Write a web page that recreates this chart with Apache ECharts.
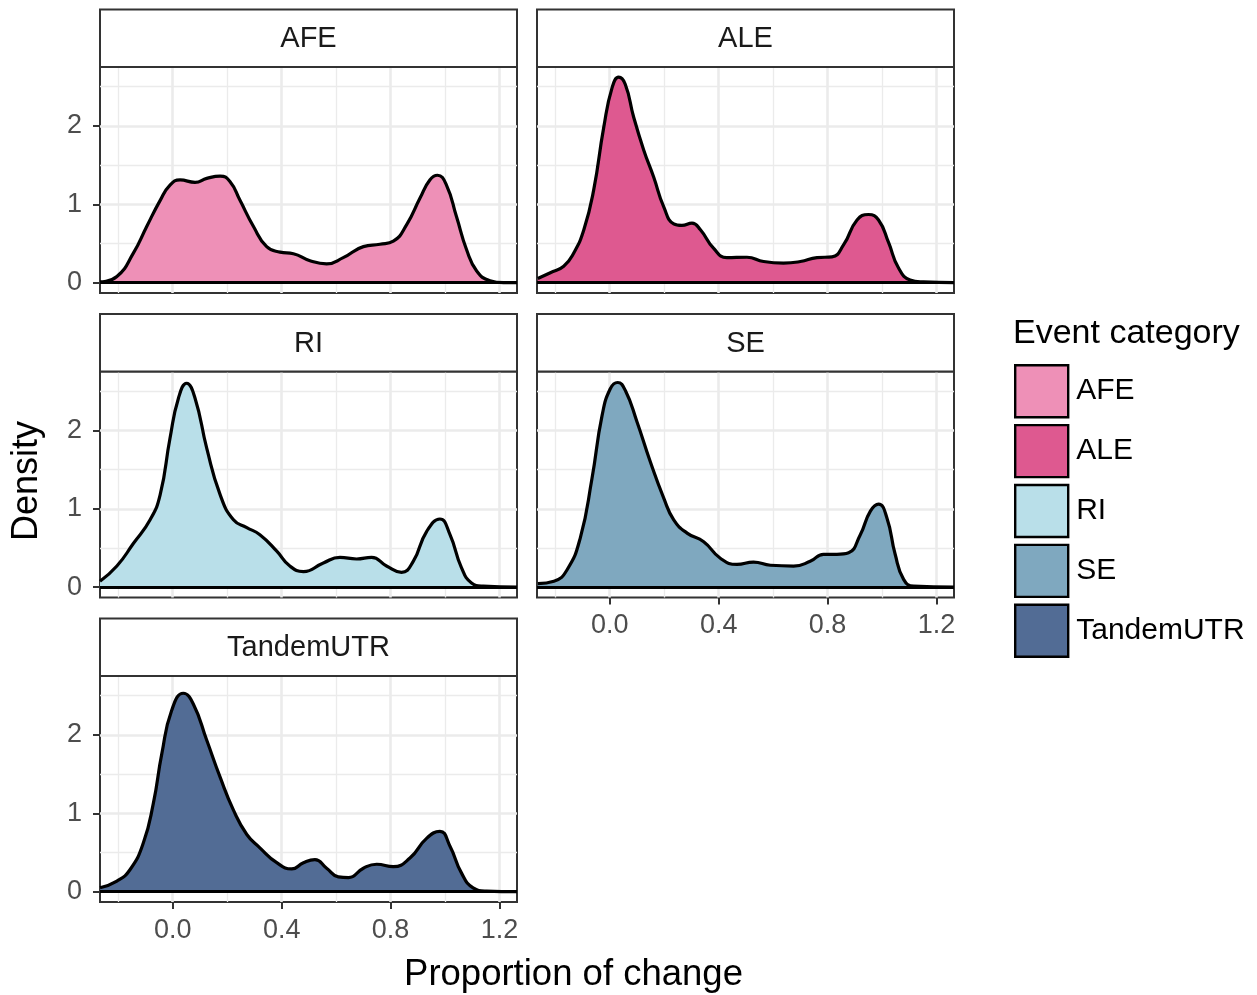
<!DOCTYPE html>
<html>
<head>
<meta charset="utf-8">
<script src="https://cdn.jsdelivr.net/npm/echarts@6/dist/echarts.min.js"></script>
<style>
  html, body { margin: 0; padding: 0; background: #fff; }
  #chart { width: 1257px; height: 995px; }
</style>
</head>
<body>
<div id="chart"></div>
<script>
// Event categories and their fill colours
const categories = ['AFE', 'ALE', 'RI', 'SE', 'TandemUTR'];
const fillColors = ['#EE90B7', '#DE5990', '#B9DFE9', '#7FA8BF', '#526C95'];

// Axis ticks and grid positions
const xTicks = [0, 0.4, 0.8, 1.2];
const xMinor = [-0.2, 0.2, 0.6, 1.0];
const yTicks = [0, 1, 2];
const yMinor = [0.5, 1.5, 2.5];

// Kernel density estimates of the proportion of change, per category
const afeX = [-0.267, -0.205, -0.144, -0.095, -0.046, -0.01, 0.027, 0.082, 0.125, 0.174, 0.21, 0.247, 0.296, 0.345, 0.394, 0.443, 0.504, 0.565, 0.626, 0.70, 0.761, 0.81, 0.859, 0.908, 0.944, 0.972, 1.005, 1.042, 1.079, 1.116, 1.165, 1.214, 1.264];
const afeY = [0.01, 0.08, 0.38, 0.72, 1.05, 1.245, 1.31, 1.28, 1.33, 1.36, 1.29, 1.05, 0.72, 0.46, 0.39, 0.37, 0.28, 0.24, 0.32, 0.46, 0.49, 0.53, 0.74, 1.08, 1.31, 1.37, 1.245, 0.84, 0.42, 0.15, 0.025, 0, 0];

const aleX = [-0.264, -0.218, -0.169, -0.132, -0.095, -0.059, -0.022, 0.009, 0.033, 0.057, 0.088, 0.125, 0.161, 0.198, 0.235, 0.265, 0.302, 0.333, 0.381, 0.43, 0.504, 0.565, 0.638, 0.70, 0.761, 0.816, 0.859, 0.908, 0.95, 0.987, 1.024, 1.06, 1.103, 1.152, 1.264];
const aleY = [0.055, 0.127, 0.21, 0.38, 0.675, 1.18, 1.98, 2.49, 2.62, 2.53, 2.11, 1.69, 1.35, 0.97, 0.75, 0.73, 0.76, 0.675, 0.44, 0.32, 0.325, 0.27, 0.25, 0.27, 0.32, 0.33, 0.485, 0.80, 0.87, 0.80, 0.51, 0.19, 0.034, 0.01, 0];

const riX = [-0.267, -0.205, -0.144, -0.083, -0.046, -0.01, 0.021, 0.051, 0.082, 0.125, 0.174, 0.223, 0.272, 0.32, 0.382, 0.43, 0.48, 0.553, 0.614, 0.675, 0.73, 0.785, 0.84, 0.883, 0.932, 0.981, 1.018, 1.06, 1.097, 1.14, 1.264];
const riY = [0.076, 0.27, 0.56, 0.86, 1.18, 1.90, 2.41, 2.60, 2.41, 1.77, 1.18, 0.86, 0.76, 0.67, 0.46, 0.27, 0.20, 0.31, 0.38, 0.36, 0.38, 0.27, 0.19, 0.33, 0.71, 0.87, 0.67, 0.25, 0.055, 0.013, 0];

const seX = [-0.264, -0.205, -0.157, -0.108, -0.065, -0.028, 0.002, 0.029, 0.057, 0.10, 0.149, 0.198, 0.235, 0.284, 0.345, 0.406, 0.467, 0.528, 0.59, 0.675, 0.736, 0.785, 0.834, 0.877, 0.92, 0.957, 0.987, 1.018, 1.048, 1.079, 1.116, 1.264];
const seY = [0.047, 0.076, 0.22, 0.63, 1.39, 2.19, 2.53, 2.61, 2.51, 2.11, 1.60, 1.14, 0.86, 0.69, 0.58, 0.37, 0.29, 0.32, 0.28, 0.27, 0.33, 0.42, 0.42, 0.44, 0.67, 0.97, 1.06, 0.88, 0.42, 0.10, 0.013, 0];

const utrX = [-0.267, -0.205, -0.157, -0.108, -0.071, -0.04, -0.004, 0.039, 0.076, 0.125, 0.174, 0.223, 0.272, 0.32, 0.382, 0.437, 0.48, 0.522, 0.565, 0.608, 0.645, 0.70, 0.749, 0.81, 0.871, 0.932, 0.981, 1.018, 1.06, 1.103, 1.152, 1.264];
const utrY = [0.05, 0.135, 0.28, 0.62, 1.13, 1.76, 2.31, 2.53, 2.39, 1.93, 1.46, 1.04, 0.73, 0.56, 0.37, 0.29, 0.37, 0.41, 0.30, 0.19, 0.18, 0.30, 0.35, 0.32, 0.43, 0.68, 0.77, 0.58, 0.24, 0.05, 0.008, 0];

const densityX = [afeX, aleX, riX, seX, utrX];
const densityY = [afeY, aleY, riY, seY, utrY];

// Facet layout: column / row of each panel
const facetCol = [0, 1, 0, 1, 0];
const facetRow = [0, 0, 1, 1, 2];

const FONT = 'Liberation Sans, Arial, Helvetica, sans-serif';
const X_MIN = -0.267, X_MAX = 1.264;
const Y_MIN = -0.131, Y_MAX = 2.75;
const colLeft = [100, 537];
const panelW = 417;
const rowTop = [67, 371.5, 676];
const panelH = 226;
const stripH = 57.5;

const grids = [], xAxes = [], yAxes = [], series = [], graphics = [];

categories.forEach((cat, i) => {
  const left = colLeft[facetCol[i]];
  const top = rowTop[facetRow[i]];
  const isBottom = (cat === 'SE' || cat === 'TandemUTR');
  const isLeft = facetCol[i] === 0;

  grids.push({
    left: left, top: top, width: panelW, height: panelH,
    show: true, backgroundColor: '#fff', borderColor: '#333333', borderWidth: 2,
    containLabel: false
  });

  xAxes.push({
    gridIndex: i, type: 'value', min: X_MIN, max: X_MAX, position: 'bottom',
    axisLine: { show: false, onZero: false },
    splitLine: { show: false },
    axisPointer: { show: false },
    axisTick: { show: isBottom, customValues: xTicks, length: 7, lineStyle: { color: '#333333', width: 2 } },
    axisLabel: {
      show: isBottom, customValues: xTicks, margin: 15,
      formatter: v => v.toFixed(1),
      fontSize: 27, color: '#4d4d4d', fontFamily: FONT
    }
  });

  yAxes.push({
    gridIndex: i, type: 'value', min: Y_MIN, max: Y_MAX, position: 'left',
    axisLine: { show: false, onZero: false },
    splitLine: { show: false },
    axisPointer: { show: false },
    axisTick: { show: isLeft, customValues: yTicks, length: 7, lineStyle: { color: '#333333', width: 2 } },
    axisLabel: {
      show: isLeft, customValues: yTicks, margin: 18,
      formatter: v => String(Math.round(v)),
      fontSize: 27, color: '#4d4d4d', fontFamily: FONT
    }
  });

  // Panel grid lines (kept underneath the density fill)
  const gridLines = [];
  xMinor.forEach(v => gridLines.push({ xAxis: v, lineStyle: { color: '#EBEBEB', width: 1.3, type: 'solid' } }));
  yMinor.forEach(v => gridLines.push({ yAxis: v, lineStyle: { color: '#EBEBEB', width: 1.3, type: 'solid' } }));
  xTicks.forEach(v => gridLines.push({ xAxis: v, lineStyle: { color: '#EBEBEB', width: 2.6, type: 'solid' } }));
  yTicks.forEach(v => gridLines.push({ yAxis: v, lineStyle: { color: '#EBEBEB', width: 2.6, type: 'solid' } }));
  series.push({
    name: 'grid-' + cat, type: 'scatter', xAxisIndex: i, yAxisIndex: i, data: [],
    z: 1, silent: true, symbolSize: 0,
    markLine: { z: 1, silent: true, symbol: 'none', label: { show: false }, animation: false, data: gridLines }
  });

  // Density curve with filled area
  series.push({
    name: cat, type: 'line', xAxisIndex: i, yAxisIndex: i,
    data: densityX[i].map((x, j) => [x, densityY[i][j]]),
    smooth: 0.5,
    symbol: 'none', showSymbol: false,
    z: 3,
    itemStyle: { color: fillColors[i] },
    lineStyle: { color: '#000', width: 3.2 },
    areaStyle: { color: fillColors[i], opacity: 1, origin: 'auto' },
    markLine: {
      z: 4, silent: true, symbol: 'none', label: { show: false }, animation: false,
      data: [{ yAxis: 0, lineStyle: { color: '#000', width: 3.2, type: 'solid' } }]
    }
  });

  // Facet strip
  const stripTop = top - stripH;
  graphics.push({
    type: 'rect', silent: true, z: 10,
    shape: { x: left, y: stripTop, width: panelW, height: stripH },
    style: { fill: '#ffffff', stroke: '#333333', lineWidth: 2 }
  });
  graphics.push({
    type: 'text', silent: true, z: 11,
    x: left + panelW / 2, y: stripTop + stripH / 2 + 1,
    style: { text: cat, fill: '#1a1a1a', font: '29px ' + FONT, textAlign: 'center', textVerticalAlign: 'middle' }
  });
});

// Axis titles and legend title
graphics.push({
  type: 'text', silent: true, x: 27, y: 481, rotation: Math.PI / 2,
  style: { text: 'Density', fill: '#000', font: '36px ' + FONT, textAlign: 'center', textVerticalAlign: 'middle' }
});
graphics.push({
  type: 'text', silent: true, x: 573.5, y: 974.5,
  style: { text: 'Proportion of change', fill: '#000', font: '36.5px ' + FONT, textAlign: 'center', textVerticalAlign: 'middle' }
});
graphics.push({
  type: 'text', silent: true, x: 1013, y: 334,
  style: { text: 'Event category', fill: '#000', font: '34px ' + FONT, textAlign: 'left', textVerticalAlign: 'middle' }
});

const chart = echarts.init(document.getElementById('chart'), null, { renderer: 'canvas' });
chart.setOption({
  animation: false,
  backgroundColor: '#ffffff',
  grid: grids,
  xAxis: xAxes,
  yAxis: yAxes,
  series: series,
  graphic: graphics,
  legend: {
    data: categories,
    orient: 'vertical',
    left: 1014, top: 364,
    padding: 0,
    icon: 'rect',
    itemWidth: 53, itemHeight: 52, itemGap: 5.5,
    itemStyle: { borderColor: '#000', borderWidth: 2.4 },
    textStyle: { fontSize: 30, color: '#000', fontFamily: FONT, padding: [0, 0, 0, 3] },
    selectedMode: false
  }
});
</script>
</body>
</html>
